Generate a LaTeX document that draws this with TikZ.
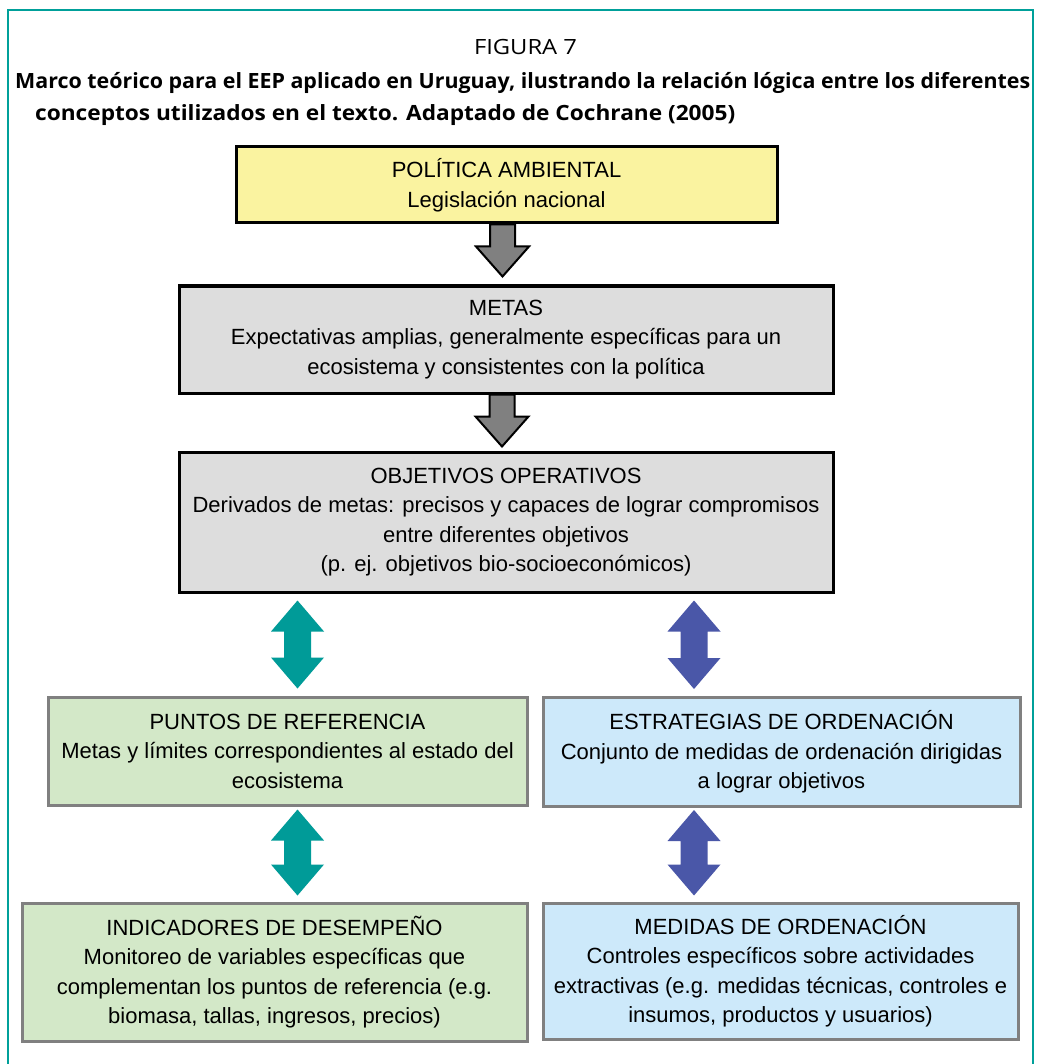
\documentclass[tikz,border=0pt]{standalone}
\usepackage{graphicx}
\usepackage{fontspec}
\setmainfont{Liberation Sans}
\newfontfamily\titlefont{Open Sans}
\usetikzlibrary{calc}
\definecolor{frameteal}{RGB}{0,160,154}
\definecolor{boxyellow}{RGB}{250,243,160}
\definecolor{boxgray}{RGB}{221,221,221}
\definecolor{boxgreen}{RGB}{211,232,200}
\definecolor{boxblue}{RGB}{205,233,250}
\definecolor{arrteal}{RGB}{0,155,152}
\definecolor{arrblue}{RGB}{74,87,168}
\definecolor{arrgray}{RGB}{128,128,128}
\definecolor{edgegray}{RGB}{128,128,128}
\tikzset{
  box/.style={rectangle, align=center, inner sep=0pt, font=\fontsize{22}{29.5}\selectfont},
  darkbox/.style={box, draw=black, line width=3pt},
  lightbox/.style={box, draw=edgegray, line width=3pt},
  titletext/.style={inner sep=0pt},
  framestyle/.style={draw=frameteal, line width=2pt},
  grayarrow/.style={fill=arrgray, draw=black, line width=2pt, line join=miter},
  tealarrow/.style={fill=arrteal},
  bluearrow/.style={fill=arrblue},
}
\newcommand{\blkdownarrow}[2]{%
  \filldraw[grayarrow] let \p1=#1, \p2=#2 in
  (\x1-12.5pt,\y1) -- (\x1+12.5pt,\y1) -- (\x1+12.5pt,\y2+30pt) -- (\x1+26.5pt,\y2+30pt)
  -- (\x1,\y2) -- (\x1-26.5pt,\y2+30pt) -- (\x1-12.5pt,\y2+30pt) -- cycle;}
\newcommand{\blkdblarrow}[3]{%
  \fill[#1] let \p1=#2, \p2=#3 in
  (\x1,\y1) -- (\x1+26.5pt,\y1-31pt) -- (\x1+13.5pt,\y1-31pt) -- (\x1+13.5pt,\y2+31pt)
  -- (\x1+26.5pt,\y2+31pt) -- (\x1,\y2) -- (\x1-26.5pt,\y2+31pt) -- (\x1-13.5pt,\y2+31pt)
  -- (\x1-13.5pt,\y1-31pt) -- (\x1-26.5pt,\y1-31pt) -- cycle;}
\begin{document}
\begin{tikzpicture}[x=1pt,y=-1pt]
\useasboundingbox (0,0) rectangle (1036,1064);
\fill[white] (0,0) rectangle (1036,1064);
\draw[framestyle] (7.5,1064) -- (7.5,10.5) -- (1033,10.5) -- (1033,1064);

\node[titletext, anchor=base] (fig) at (525.5,55) {\resizebox{103pt}{\height}{\titlefont\fontsize{21}{25}\selectfont FIGURA 7}};
\node[titletext, anchor=base west] (t1) at (15,89) {\resizebox{1015pt}{\height}{\titlefont\bfseries\fontsize{21}{25}\selectfont Marco teórico para el EEP aplicado en Uruguay, ilustrando la relación lógica entre los diferentes}};
\node[titletext, anchor=base west] (t2) at (35,121) {\resizebox{700pt}{\height}{\titlefont\bfseries\fontsize{21}{25}\selectfont conceptos utilizados en el texto. Adaptado de Cochrane (2005)}};

\node[darkbox, fill=boxyellow, minimum width=541pt, minimum height=76pt] (pol) at (506.5,185)
  {POLÍTICA AMBIENTAL\\Legislación nacional};
\node[darkbox, fill=boxgray, minimum width=654pt, minimum height=107pt] (metas) at (506,339.5)
  {METAS\\Expectativas amplias, generalmente específicas para un\\ecosistema y consistentes con la política};
\node[darkbox, fill=boxgray, minimum width=654pt, minimum height=140pt] (obj) at (506,522)
  {OBJETIVOS OPERATIVOS\\Derivados de metas: precisos y capaces de lograr compromisos\\entre diferentes objetivos\\(p. ej. objetivos bio-socioeconómicos)};
\node[lightbox, fill=boxgreen, minimum width=479pt, minimum height=108pt] (punt) at (287.5,751)
  {PUNTOS DE REFERENCIA\\Metas y límites correspondientes al estado del\\ecosistema};
\node[lightbox, fill=boxblue, minimum width=477pt, minimum height=109pt] (estr) at (781.5,752)
  {ESTRATEGIAS DE ORDENACIÓN\\Conjunto de medidas de ordenación dirigidas\\a lograr objetivos};
\node[lightbox, fill=boxgreen, minimum width=505pt, minimum height=138pt] (ind) at (274.5,972)
  {INDICADORES DE DESEMPEÑO\\Monitoreo de variables específicas que\\complementan los puntos de referencia (e.g.\\biomasa, tallas, ingresos, precios)};
\node[lightbox, fill=boxblue, minimum width=475pt, minimum height=136pt] (med) at (780.5,971)
  {MEDIDAS DE ORDENACIÓN\\Controles específicos sobre actividades\\extractivas (e.g. medidas técnicas, controles e\\insumos, productos y usuarios)};

\coordinate (g1a) at ($(pol.south)+(-4,0)$);
\coordinate (g1b) at ($(metas.north)+(-4,-8)$);
\coordinate (g2a) at ($(metas.south)+(-4,0)$);
\coordinate (g2b) at ($(obj.north)+(-4,-4)$);
\blkdownarrow{(g1a)}{(g1b)}
\blkdownarrow{(g2a)}{(g2b)}

\coordinate (ta) at ($(obj.south -| punt.north)+(10,7)$);
\coordinate (tb) at ($(punt.north)+(10,-7)$);
\coordinate (ba) at ($(obj.south -| estr.north)+(-87.5,7)$);
\coordinate (bb) at ($(estr.north)+(-87.5,-7)$);
\coordinate (tc) at ($(punt.south)+(10,3)$);
\coordinate (td) at ($(ind.north -| punt.south)+(10,-6)$);
\coordinate (bc) at ($(estr.south)+(-87.5,2)$);
\coordinate (bd) at ($(med.north -| estr.south)+(-87.5,-6)$);
\blkdblarrow{tealarrow}{(ta)}{(tb)}
\blkdblarrow{bluearrow}{(ba)}{(bb)}
\blkdblarrow{tealarrow}{(tc)}{(td)}
\blkdblarrow{bluearrow}{(bc)}{(bd)}
\end{tikzpicture}
\end{document}
